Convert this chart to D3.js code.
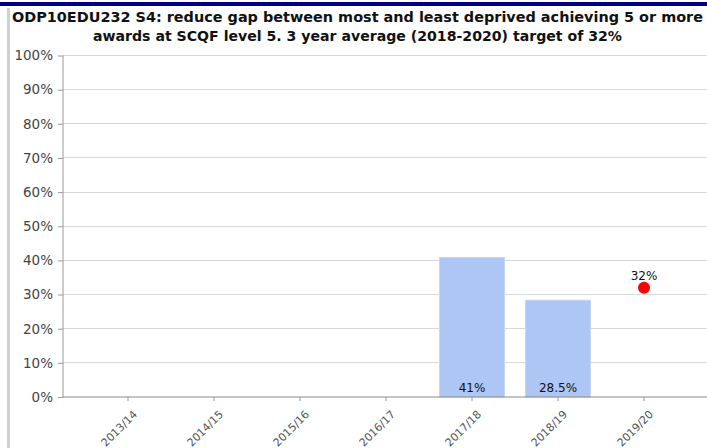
<!DOCTYPE html>
<html><head><meta charset="utf-8">
<script src="https://cdn.jsdelivr.net/npm/d3@7/dist/d3.min.js"></script>
<style>body{margin:0;background:#fff}svg{display:block}</style>
</head><body>
<script>
const categories = ["2013/14","2014/15","2015/16","2016/17","2017/18","2018/19","2019/20"];
const barValues = [null,null,null,null,41,28.5,null];
const barLabels = ["","","","","41%","28.5%",""];
const targetValues = [null,null,null,null,null,null,32];
const targetLabels = ["","","","","","","32%"];
const yTicks = [0,10,20,30,40,50,60,70,80,90,100];
const titleLines = ["ODP10EDU232 S4: reduce gap between most and least deprived achieving 5 or more",
                    "awards at SCQF level 5. 3 year average (2018-2020) target of 32%"];

const W = 707, H = 448;
const svg = d3.select("body").append("svg").attr("width", W).attr("height", H);
const font = "DejaVu Sans, Verdana, sans-serif";

// frame
svg.append("rect").attr("x",0).attr("y",2).attr("width",W).attr("height",4).attr("fill","#000080");
svg.append("rect").attr("x",7).attr("y",8).attr("width",3).attr("height",H-8).attr("fill","#d0d0d0");

// title
const titleW = [691, 529];
titleLines.forEach((t,i) => {
  svg.append("text").attr("x", 357.5).attr("y", 22 + i*19)
    .attr("text-anchor","middle").attr("font-family",font).attr("font-weight","bold")
    .attr("font-size", 14).attr("fill","#111")
    .attr("textLength", titleW[i]).attr("lengthAdjust","spacingAndGlyphs")
    .text(t);
});

const x0 = 63, yTop = 55.5, yBot = 397;
const x = d3.scaleBand().domain(categories).range([85, 85 + 7*86]).paddingInner(0.233).paddingOuter(0.1165);
const y = d3.scaleLinear().domain([0,100]).range([yBot, yTop]);

// gridlines
svg.append("g").selectAll("line").data(yTicks.filter(d=>d>0)).join("line")
  .attr("x1", x0).attr("x2", W).attr("y1", d=>y(d)).attr("y2", d=>y(d))
  .attr("stroke","#d8d8d8").attr("stroke-width",1).attr("shape-rendering","crispEdges");

// bars
const data = categories.map((c,i)=>({c, v:barValues[i], l:barLabels[i], t:targetValues[i], tl:targetLabels[i]}));
svg.append("g").selectAll("rect").data(data.filter(d=>d.v!=null)).join("rect")
  .attr("x", d=>x(d.c)+0.5).attr("width", x.bandwidth()-1)
  .attr("y", d=>y(d.v)+0.5).attr("height", d=>yBot - y(d.v)-0.5)
  .attr("fill","#aec6f4").attr("stroke","#c4d6f8").attr("stroke-width",1);

svg.append("g").selectAll("text").data(data.filter(d=>d.v!=null)).join("text")
  .attr("x", d=>x(d.c)+x.bandwidth()/2).attr("y", yBot-5)
  .attr("text-anchor","middle").attr("font-family",font).attr("font-size",12).attr("fill","#111")
  .text(d=>d.l);

// y axis
const yAxis = d3.axisLeft(y).tickValues(yTicks).tickFormat(d=>d+"%").tickSize(5).tickPadding(5);
const gy = svg.append("g").attr("transform",`translate(${x0},0)`).call(yAxis);
gy.select(".domain").attr("stroke","#999").attr("d", `M0,${yTop}V${yBot}`);
gy.selectAll(".tick line").attr("stroke","#999");
gy.selectAll(".tick text").attr("font-family",font).attr("font-size",13.5).attr("fill","#444");

// x axis
const xAxis = d3.axisBottom(x).tickSize(4).tickPadding(4);
const gx = svg.append("g").attr("transform",`translate(0,${yBot})`).call(xAxis);
gx.select(".domain").attr("stroke","#888").attr("d", `M${x0},0H${W}`);
gx.selectAll(".tick line").attr("stroke","#999");
gx.selectAll(".tick text").attr("font-family",font).attr("font-size",11).attr("fill","#555")
  .attr("text-anchor","end").attr("dy",null).attr("dx",null)
  .attr("transform","translate(10,18) rotate(-45)").attr("y",0).attr("x",0);

// target point
const tp = data.filter(d=>d.t!=null);
svg.append("g").selectAll("circle").data(tp).join("circle")
  .attr("cx", d=>x(d.c)+x.bandwidth()/2).attr("cy", d=>y(d.t)).attr("r",6).attr("fill","#ff0000");
svg.append("g").selectAll("text").data(tp).join("text")
  .attr("x", d=>x(d.c)+x.bandwidth()/2).attr("y", d=>y(d.t)-8)
  .attr("text-anchor","middle").attr("font-family",font).attr("font-size",12).attr("fill","#111")
  .text(d=>d.tl);
</script>
</body></html>
